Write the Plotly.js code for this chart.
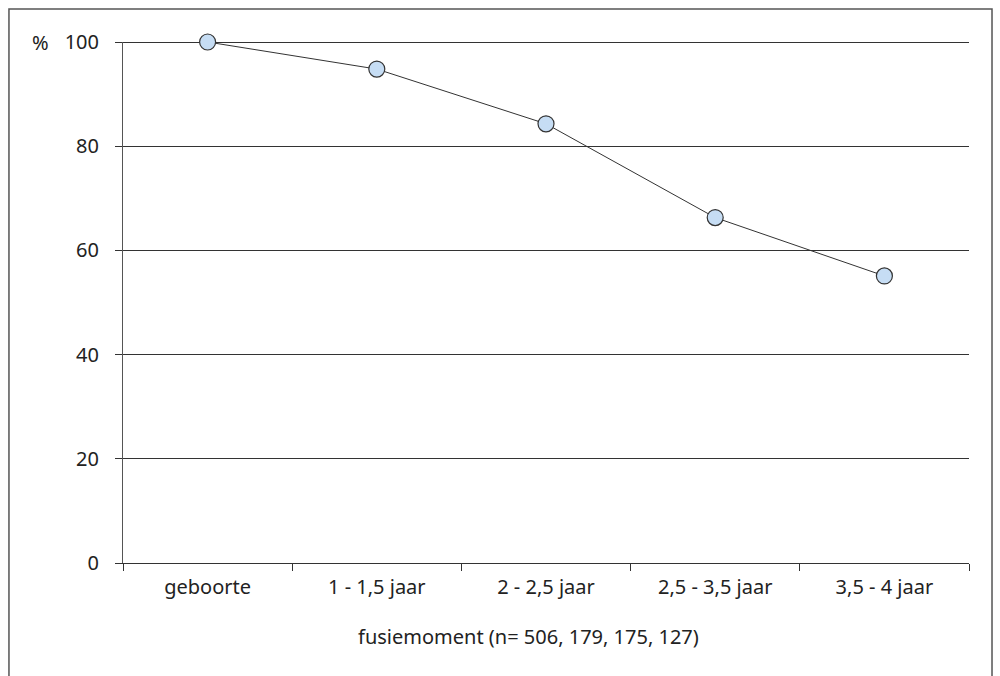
<!DOCTYPE html>
<html><head><meta charset="utf-8">
<script src="https://cdn.plot.ly/plotly-3.0.1.min.js"></script>
<style>html,body{margin:0;padding:0;background:#fff}#c{width:1000px;height:676px}</style>
</head><body><div id="c"></div>
<script>
const categories = ["geboorte", "1 - 1,5 jaar", "2 - 2,5 jaar", "2,5 - 3,5 jaar", "3,5 - 4 jaar"];
const values = [100, 94.8, 84.3, 66.3, 55.1];
const yTicks = [0, 20, 40, 60, 80, 100];
const xTitle = "fusiemoment (n= 506, 179, 175, 127)";
const yUnit = "%";

const font = "Noto Sans, sans-serif";
const trace = {
  x: categories, y: values, type: "scatter", mode: "lines+markers",
  line: {color: "#333", width: 1},
  marker: {size: 16, color: "#c6ddf4", line: {color: "#333", width: 1.2}},
  cliponaxis: false, hoverinfo: "none"
};
const layout = {
  width: 1000, height: 676,
  margin: {l: 123, r: 31, t: 42, b: 113},
  paper_bgcolor: "#fff", plot_bgcolor: "#fff",
  font: {family: font, size: 20, color: "#222"},
  showlegend: false,
  xaxis: {
    type: "category", tickson: "boundaries", ticks: "outside", ticklen: 7,
    tickcolor: "#333", showline: true, linecolor: "#333", linewidth: 1,
    showgrid: false, zeroline: false, range: [-0.5, 4.5],
    tickfont: {size: 20, color: "#222"}, ticklabelstandoff: 6
  },
  yaxis: {
    range: [0, 100], tickvals: yTicks, ticks: "outside", ticklen: 7,
    tickcolor: "#333", showline: true, linecolor: "#555", linewidth: 1,
    showgrid: true, gridcolor: "#333", gridwidth: 1, zeroline: false,
    tickfont: {size: 20, color: "#222"}, ticklabelstandoff: 12
  },
  annotations: [
    {text: yUnit, xref: "paper", yref: "y", x: -0.098, y: 100,
     xanchor: "center", yanchor: "middle", showarrow: false,
     font: {size: 20, color: "#222"}},
    {text: xTitle, xref: "paper", yref: "paper", x: 0.479, y: -0.142,
     xanchor: "center", yanchor: "middle", showarrow: false,
     font: {size: 20, color: "#222"}}
  ],
  shapes: [
    {type: "line", xref: "paper", yref: "y", x0: 0, x1: 1, y0: 100, y1: 100,
     line: {color: "#333", width: 2}, layer: "below"},
    {type: "path", xref: "paper", yref: "paper",
     path: "M -0.1348 -0.3 L -0.1348 1.0633 L 1.0272 1.0633 L 1.0272 -0.3",
     line: {color: "#555", width: 1.5}}
  ]
};
Plotly.newPlot("c", [trace], layout, {staticPlot: true});
</script></body></html>
